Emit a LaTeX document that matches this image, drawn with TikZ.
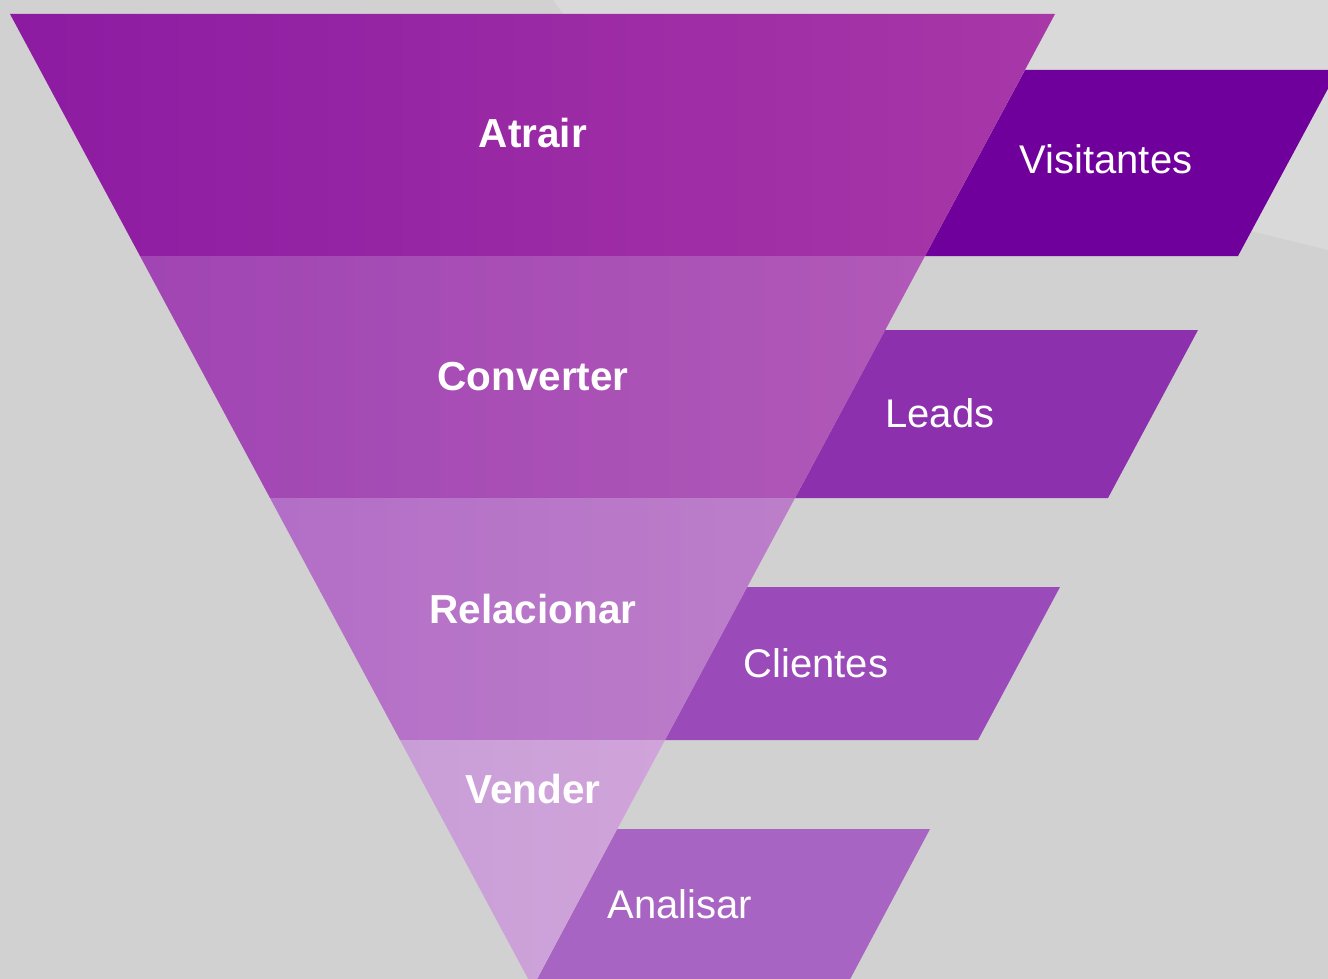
\documentclass[tikz,border=0pt]{standalone}
\usepackage{fontspec}
\setmainfont{Liberation Sans}

\definecolor{bgGray}{HTML}{D1D1D1}
\definecolor{bgLight}{HTML}{D9D9D9}
\definecolor{atrairL}{HTML}{8C1BA2}
\definecolor{atrairR}{HTML}{A837A8}
\definecolor{converterL}{HTML}{A045B3}
\definecolor{converterR}{HTML}{B159B8}
\definecolor{relacionarL}{HTML}{B36EC7}
\definecolor{relacionarR}{HTML}{BC7EC9}
\definecolor{venderL}{HTML}{C99ED7}
\definecolor{venderR}{HTML}{D0A4DA}
\definecolor{visitantesC}{HTML}{6F009B}
\definecolor{leadsC}{HTML}{8C30AE}
\definecolor{clientesC}{HTML}{9B4ABA}
\definecolor{analisarC}{HTML}{A864C3}

\begin{document}
\begin{tikzpicture}[x=1pt,y=-1pt,
  stage label/.style={text=white,inner sep=0pt,anchor=base,
    font=\fontsize{40.5}{48}\selectfont\bfseries},
  result label/.style={text=white,inner sep=0pt,anchor=base,
    font=\fontsize{40}{48}\selectfont}]

  \useasboundingbox (0,0) rectangle (1328,979);
  \clip (0,0) rectangle (1328,979);

  % background
  \fill[bgGray] (0,0) rectangle (1328,979);
  \fill[bgLight] (553,0) -- (700,200) -- (1247,230) -- (1328,250) -- (1328,0) -- cycle;

  % result boxes
  \fill[visitantesC] (1025,70) -- (1338,70) -- (1238,256) -- (925,256) -- cycle;
  \fill[leadsC] (885,330) -- (1198,330) -- (1108,498) -- (795,498) -- cycle;
  \fill[clientesC] (747,587) -- (1060,587) -- (978,740) -- (665,740) -- cycle;
  \fill[analisarC] (617,829) -- (930,829) -- (839,1000) -- (526,1000) -- cycle;

  % funnel bands
  \path[left color=atrairL,right color=atrairR] (10,14) -- (1055,14) -- (925,256) -- (140,256) -- cycle;
  \path[left color=converterL,right color=converterR] (140,256) -- (925,256) -- (795,498) -- (270,498) -- cycle;
  \path[left color=relacionarL,right color=relacionarR] (270,498) -- (795,498) -- (665,740) -- (400,740) -- cycle;
  \path[left color=venderL,right color=venderR] (400,740) -- (665,740) -- (532.5,987) -- cycle;

  % labels
  \node[stage label] (atrair) at (533,147) {Atrair};
  \node[stage label] (converter) at (533,390) {Converter};
  \node[stage label] (relacionar) at (533,623) {Relacionar};
  \node[stage label] (vender) at (533,803) {Vender};

  \node[result label] (visitantes) at (1106,174) {Visitantes};
  \node[result label] (leads) at (940,427) {Leads};
  \node[result label] (clientes) at (816,677) {Clientes};
  \node[result label] (analisar) at (680,918) {Analisar};
\end{tikzpicture}
\end{document}
